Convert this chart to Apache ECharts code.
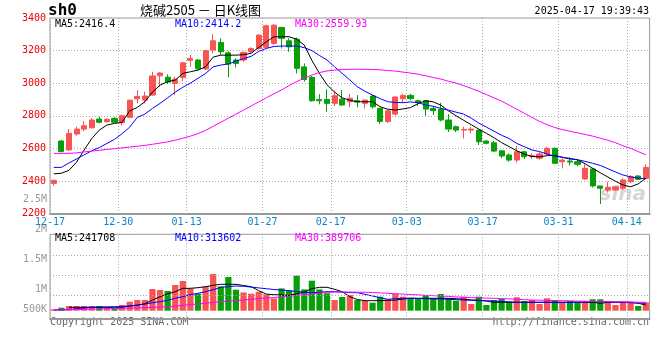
<!DOCTYPE html>
<html><head><meta charset="utf-8">
<script src="https://cdn.jsdelivr.net/npm/echarts@6/dist/echarts.min.js"></script>
<style>html,body{margin:0;padding:0;background:#fff}#c{width:660px;height:360px}</style>
</head><body><div id="c"></div>
<script>
const dates = ['12-18','12-19','12-20','12-23','12-24','12-25','12-26','12-27','12-30','12-31',
'01-02','01-03','01-06','01-07','01-08','01-09','01-10','01-13','01-14','01-15','01-16','01-17','01-20','01-21','01-22','01-23','01-24','01-27',
'02-05','02-06','02-07','02-10','02-11','02-12','02-13','02-14','02-17','02-18','02-19','02-20','02-21','02-24','02-25','02-26','02-27','02-28',
'03-03','03-04','03-05','03-06','03-07','03-10','03-11','03-12','03-13','03-14','03-17','03-18','03-19','03-20','03-21','03-24','03-25','03-26','03-27','03-28','03-31',
'04-01','04-02','04-03','04-07','04-08','04-09','04-10','04-11','04-14','04-15','04-16','04-17'];
const prevDay = '12-17';
const tickLabels = ['12-17','12-30','01-13','01-27','02-17','03-03','03-17','03-31','04-14'];

const opens  = [2385,2645,2590,2688,2718,2726,2780,2763,2784,2757,2790,2904,2896,2927,3045,3037,2999,3035,3140,3142,3087,3203,3250,
3186,3142,3142,3193,3213,3220,3244,3342,3260,3270,3100,3036,2900,2900,2876,2902,2886,2892,2876,2921,2845,2765,2810,2905,2925,2892,
2892,2845,2839,2774,2733,2712,2712,2712,2645,2634,2585,2559,2528,2579,2548,2539,2565,2600,2518,2522,2518,2412,2473,2369,2344,2344,2355,2395,2430,2416];
const closes = [2404,2580,2692,2718,2739,2774,2760,2778,2760,2800,2895,2919,2921,3044,3062,3007,3025,3125,3152,3088,3199,3260,3193,
3117,3121,3189,3213,3295,3352,3356,3275,3223,3091,3023,2892,2892,2876,2923,2866,2907,2884,2896,2855,2765,2830,2915,2925,2905,2882,
2841,2831,2774,2718,2712,2716,2718,2640,2631,2583,2553,2528,2579,2548,2556,2565,2600,2508,2528,2516,2502,2477,2369,2355,2361,2364,2406,2426,2410,2483];
const lows   = [2370,2575,2585,2677,2706,2723,2753,2757,2757,2739,2790,2876,2876,2923,2978,2995,2927,3013,3100,3080,3080,3183,3172,
3036,3097,3130,3185,3205,3215,3235,3213,3193,3060,3009,2886,2870,2825,2860,2860,2852,2852,2845,2845,2750,2755,2800,2880,2895,2860,
2800,2805,2765,2700,2700,2661,2690,2620,2625,2578,2540,2518,2512,2535,2533,2530,2560,2505,2477,2495,2490,2406,2360,2258,2328,2340,2345,2385,2405,2410];
const highs  = [2406,2651,2718,2733,2767,2786,2794,2783,2790,2808,2900,2958,2947,3070,3068,3054,3039,3130,3174,3148,3204,3301,3275,
3195,3152,3195,3220,3300,3360,3362,3346,3275,3280,3121,3044,2933,2962,2953,2958,2933,2927,2900,2927,2850,2840,2920,2935,2935,2900,
2896,2860,2880,2810,2740,2733,2733,2712,2650,2645,2590,2570,2614,2585,2570,2577,2610,2605,2539,2545,2535,2502,2480,2369,2395,2366,2415,2436,2436,2502];

const ma5  = [2443,2447,2465,2515,2590,2660,2712,2743,2753,2760,2830,2851,2886,2945,2988,3009,3019,3060,3070,3080,3101,3160,3172,
3172,3172,3175,3183,3220,3254,3285,3285,3285,3270,3234,3140,3060,2990,2945,2910,2895,2886,2886,2886,2855,2840,2835,2842,2850,2875,
2892,2885,2865,2830,2800,2772,2745,2718,2692,2665,2635,2610,2585,2565,2550,2548,2555,2557,2545,2535,2530,2505,2477,2450,2424,2398,2375,2364,2382,2416];
const ma10 = [2483,2483,2510,2535,2560,2585,2605,2630,2655,2690,2730,2790,2810,2845,2876,2910,2945,2975,3000,3030,3060,3100,3111,
3118,3135,3150,3165,3195,3213,3225,3228,3228,3228,3218,3200,3170,3142,3100,3060,3020,2978,2950,2927,2905,2886,2882,2880,2885,2880,
2866,2858,2845,2835,2822,2810,2785,2755,2730,2705,2680,2660,2630,2610,2590,2580,2565,2552,2545,2538,2530,2520,2508,2495,2475,2455,2436,2425,2417,2414];
const ma30 = [2569,2569,2569,2572,2578,2583,2588,2593,2598,2603,2608,2613,2618,2625,2632,2640,2650,2662,2675,2690,2710,2735,2760,
2785,2810,2835,2860,2885,2910,2935,2958,2985,3010,3030,3050,3065,3075,3080,3084,3085,3085,3085,3084,3082,3078,3074,3068,3062,3055,
3045,3035,3025,3012,3000,2985,2968,2950,2930,2910,2890,2865,2840,2815,2790,2765,2745,2728,2715,2705,2695,2685,2675,2662,2650,2635,2615,2600,2580,2560];

const volumes = [70000,150000,235000,235000,235000,235000,235000,165000,120000,285000,450000,535000,535000,1085000,1035000,985000,1285000,1485000,1115000,850000,1215000,1835000,1215000,
1685000,1050000,915000,850000,950000,815000,615000,1115000,1015000,1750000,1065000,1500000,1065000,870000,535000,685000,785000,535000,500000,400000,700000,570000,835000,700000,650000,620000,
785000,620000,835000,620000,500000,700000,335000,700000,285000,535000,585000,450000,670000,485000,535000,335000,620000,535000,420000,485000,400000,450000,570000,570000,450000,285000,450000,450000,235000,420000];
const volMa5 = [null,null,170000,170000,170000,170000,170000,170000,170000,175000,230000,270000,350000,530000,700000,840000,950000,1120000,1120000,1150000,1200000,1270000,1320000,
1320000,1320000,1260000,1200000,1000000,830000,800000,790000,760000,850000,930000,1100000,1170000,1170000,1070000,950000,700000,560000,500000,500000,500000,520000,530000,580000,620000,620000,
620000,620000,620000,620000,600000,570000,540000,520000,480000,420000,420000,420000,420000,420000,420000,420000,420000,420000,420000,420000,420000,420000,420000,370000,420000,420000,420000,420000,370000,285000];
const volMa10 = [35000,40000,60000,100000,130000,170000,180000,190000,200000,210000,240000,285000,330000,400000,450000,520000,620000,700000,800000,870000,950000,1050000,1170000,
1200000,1235000,1220000,1180000,1140000,1100000,1060000,1035000,1000000,960000,920000,900000,920000,950000,950000,930000,905000,900000,820000,735000,650000,570000,600000,620000,620000,610000,
600000,590000,585000,570000,550000,535000,520000,510000,500000,480000,460000,440000,420000,420000,420000,420000,420000,420000,420000,420000,430000,440000,450000,450000,440000,430000,420000,400000,385000,370000];
const volMa30 = [35000,40000,50000,60000,70000,80000,90000,100000,110000,120000,130000,140000,150000,165000,180000,200000,230000,270000,310000,335000,370000,420000,450000,
480000,510000,535000,570000,600000,630000,660000,690000,720000,760000,800000,840000,880000,920000,935000,935000,930000,925000,920000,910000,890000,870000,850000,830000,810000,790000,
770000,750000,735000,715000,690000,670000,655000,640000,630000,620000,610000,590000,570000,550000,535000,525000,515000,505000,500000,490000,480000,470000,460000,455000,450000,445000,440000,430000,425000,420000];

const volAxisLabels = ['2.5M','2M','1.5M','1M','500K'];
const volAxisValues = [2500000,2000000,1500000,1000000,500000];
const volGridValues = [770000,1770000,2770000];
const priceMaText = ['MA5:2416.4','MA10:2414.2','MA30:2559.93'];
const volMaText = ['MA5:241708','MA10:313602','MA30:389706'];

const UP = '#f85454', DOWN = '#08a008';
const MONO = '"DejaVu Sans Mono", "Liberation Mono", monospace';
const boundaries = [prevDay].concat(dates);
const showTick = (i, v) => tickLabels.indexOf(v) >= 0;

const G0 = {left: 50, right: 10.4, top: 18, height: 195.5};
const G1 = {left: 50, right: 10.4, top: 234.3, height: 84.4};

const chart = echarts.init(document.getElementById('c'), null, {renderer: 'canvas'});

function vLabelY(v) { // Sina places volume labels 30px per 500K from the 1M label, clamped at the bottom
  return Math.min(290.7 - (v - 1000000) / 500000 * 30, 310);
}

const gridLine = {type: [1, 2], color: '#aaa', width: 1};
const option = {
  animation: false,
  backgroundColor: '#fff',
  grid: [
    Object.assign({show: true, borderColor: '#999', borderWidth: 1, containLabel: false}, G0),
    Object.assign({show: true, borderColor: '#999', borderWidth: 1, containLabel: false}, G1)
  ],
  xAxis: [
    {type: 'category', gridIndex: 0, data: dates, boundaryGap: true, show: false},
    {type: 'category', gridIndex: 0, data: boundaries, boundaryGap: false, position: 'bottom',
      axisLine: {show: true, lineStyle: {color: '#999', width: 2}}, axisTick: {show: false},
      axisLabel: {interval: showTick, color: '#0a86c8', fontFamily: MONO, fontSize: 10, margin: 4, hideOverlap: false},
      splitLine: {show: true, interval: showTick, lineStyle: gridLine}},
    {type: 'category', gridIndex: 1, data: dates, boundaryGap: true, show: false},
    {type: 'category', gridIndex: 1, data: boundaries, boundaryGap: false, position: 'bottom',
      axisLine: {show: true, lineStyle: {color: '#999', width: 2}}, axisTick: {show: false},
      axisLabel: {show: false},
      splitLine: {show: true, interval: showTick, lineStyle: gridLine}}
  ],
  yAxis: [
    {type: 'value', gridIndex: 0, min: 2200, max: 3400, interval: 200,
      axisLine: {show: false}, axisTick: {show: false},
      axisLabel: {color: '#ee0000', fontFamily: MONO, fontSize: 10, margin: 4, formatter: v => String(v)},
      splitLine: {show: true, showMinLine: false, showMaxLine: false, lineStyle: gridLine}},
    {type: 'value', gridIndex: 1, min: -400000, max: 3820000,
      axisLine: {show: false}, axisTick: {show: false}, axisLabel: {show: false}, splitLine: {show: false}}
  ],
  series: [
    {type: 'candlestick', xAxisIndex: 0, yAxisIndex: 0, barWidth: '74%',
      data: dates.map((d, i) => [opens[i], closes[i], lows[i], highs[i]]),
      itemStyle: {color: UP, color0: DOWN, borderColor: UP, borderColor0: DOWN, borderWidth: 1}},
    {type: 'line', xAxisIndex: 0, yAxisIndex: 0, data: ma5, showSymbol: false, symbol: 'none', lineStyle: {color: '#000', width: 1}, silent: true},
    {type: 'line', xAxisIndex: 0, yAxisIndex: 0, data: ma10, showSymbol: false, symbol: 'none', lineStyle: {color: '#0000ff', width: 1}, silent: true},
    {type: 'line', xAxisIndex: 0, yAxisIndex: 0, data: ma30, showSymbol: false, symbol: 'none', lineStyle: {color: '#ff00ff', width: 1}, silent: true},
    {type: 'bar', xAxisIndex: 2, yAxisIndex: 1, barWidth: '82%',
      data: volumes.map((v, i) => ({value: v, itemStyle: {color: closes[i] >= opens[i] ? UP : DOWN}})),
      markLine: {silent: true, symbol: 'none', label: {show: false}, lineStyle: gridLine,
        data: volGridValues.map(v => ({yAxis: v}))}},
    {type: 'line', xAxisIndex: 2, yAxisIndex: 1, data: volMa5, showSymbol: false, symbol: 'none', lineStyle: {color: '#000', width: 1}, silent: true},
    {type: 'line', xAxisIndex: 2, yAxisIndex: 1, data: volMa10, showSymbol: false, symbol: 'none', lineStyle: {color: '#0000ff', width: 1}, silent: true},
    {type: 'line', xAxisIndex: 2, yAxisIndex: 1, data: volMa30, showSymbol: false, symbol: 'none', lineStyle: {color: '#ff00ff', width: 1}, silent: true}
  ],
  graphic: [
    {type: 'text', left: 48, top: 3, style: {text: 'sh0', font: 'bold 16px ' + MONO, fill: '#000'}},
    {type: 'text', left: 140, top: 4, style: {text: '烧碱2505 － 日K线图', font: '13px "Noto Sans CJK SC", sans-serif', fill: '#000'}},
    {type: 'text', right: 11, top: 6, style: {text: '2025-04-17 19:39:43', font: '10px ' + MONO, fill: '#000'}},
    {type: 'text', left: 55, top: 19, style: {text: priceMaText[0], font: '10px ' + MONO, fill: '#000'}},
    {type: 'text', left: 175, top: 19, style: {text: priceMaText[1], font: '10px ' + MONO, fill: '#0000ff'}},
    {type: 'text', left: 295, top: 19, style: {text: priceMaText[2], font: '10px ' + MONO, fill: '#ff00ff'}},
    {type: 'text', left: 55, top: 233, style: {text: volMaText[0], font: '10px ' + MONO, fill: '#000'}},
    {type: 'text', left: 175, top: 233, style: {text: volMaText[1], font: '10px ' + MONO, fill: '#0000ff'}},
    {type: 'text', left: 295, top: 233, style: {text: volMaText[2], font: '10px ' + MONO, fill: '#ff00ff'}},
    {type: 'text', left: 50, top: 317, style: {text: 'Copyright 2025 SINA.COM', font: '10px ' + MONO, fill: '#666'}},
    {type: 'text', right: 11, top: 317, style: {text: 'http://finance.sina.com.cn', font: '10px ' + MONO, fill: '#666'}},
    {type: 'text', right: 14, top: 185, style: {text: 'sina', font: 'italic bold 20px "DejaVu Sans", sans-serif', fill: 'rgba(180,180,180,0.55)'}}
  ].concat(volAxisLabels.map((t, i) => ({
    type: 'text', right: 660 - 47, top: vLabelY(volAxisValues[i]) - 6,
    style: {text: t, font: '10px ' + MONO, fill: '#999'}
  })))
};
chart.setOption(option);
</script></body></html>
